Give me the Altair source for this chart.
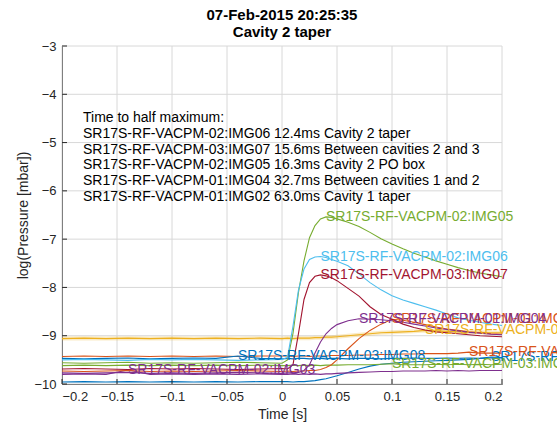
import altair as alt
import pandas as pd

# time grid [s]
T = [-0.2, -0.18, -0.16, -0.14, -0.12, -0.1, -0.08, -0.06, -0.04, -0.02, 0.0,
     0.005, 0.01, 0.015, 0.02, 0.025, 0.03, 0.035, 0.04, 0.045,
     0.05, 0.06, 0.07, 0.08, 0.09, 0.1, 0.11, 0.12, 0.13, 0.14, 0.15, 0.16, 0.17, 0.18, 0.19, 0.2]

names = [
    "SR17S-RF-VACPM-01:IMG01",
    "SR17S-RF-VACPM-04:IMG09",
    "SR17S-RF-VACPM-03:IMG08",
    "SR17S-RF-VACPM-02:IMG03",
    "SR17S-RF-VACPM-03:IMG12",
    "SR17S-RF-VACPM-04:IMG10",
    "SR17S-RF-VACPM-01:IMG02",
    "SR17S-RF-VACPM-01:IMG04",
    "SR17S-RF-VACPM-02:IMG05",
    "SR17S-RF-VACPM-02:IMG06",
    "SR17S-RF-VACPM-03:IMG07",
]
colors = ["#0072BD", "#D95319", "#0072BD", "#7E2F8E", "#77AC30", "#EDB120",
          "#D95319", "#7E2F8E", "#77AC30", "#4DBEEE", "#A2142F"]

img01 = [-9.96, -9.95, -9.96, -9.95, -9.96, -9.95, -9.96, -9.95, -9.96, -9.95, -9.95,
         -9.95, -9.96, -9.95, -9.95, -9.94, -9.93, -9.91, -9.89, -9.86,
         -9.83, -9.76, -9.69, -9.63, -9.59, -9.57, -9.55, -9.54, -9.53, -9.52, -9.51, -9.50, -9.49, -9.47, -9.44, -9.45]
img09 = [-9.43, -9.42, -9.43, -9.42, -9.43, -9.42, -9.43, -9.42, -9.43, -9.42, -9.42,
         -9.42, -9.43, -9.42, -9.42, -9.43, -9.42, -9.42, -9.42, -9.41,
         -9.41, -9.41, -9.40, -9.40, -9.39, -9.39, -9.38, -9.38, -9.37, -9.37, -9.37, -9.36, -9.34, -9.36, -9.36, -9.36]
img08 = [-9.47, -9.48, -9.47, -9.46, -9.48, -9.47, -9.46, -9.47, -9.42, -9.47, -9.48,
         -9.47, -9.48, -9.47, -9.47, -9.48, -9.47, -9.47, -9.48, -9.47,
         -9.47, -9.48, -9.47, -9.47, -9.48, -9.47, -9.47, -9.46, -9.47, -9.47, -9.46, -9.47, -9.46, -9.47, -9.46, -9.46]
img03 = [-9.80, -9.79, -9.80, -9.71, -9.80, -9.79, -9.80, -9.79, -9.80, -9.79, -9.80,
         -9.80, -9.79, -9.80, -9.79, -9.80, -9.79, -9.80, -9.79, -9.79,
         -9.78, -9.77, -9.76, -9.75, -9.74, -9.74, -9.73, -9.73, -9.73, -9.72, -9.73, -9.72, -9.73, -9.72, -9.72, -9.72]
img12 = [-9.62, -9.61, -9.62, -9.61, -9.62, -9.61, -9.62, -9.61, -9.62, -9.61, -9.62,
         -9.62, -9.61, -9.62, -9.61, -9.62, -9.61, -9.62, -9.61, -9.61,
         -9.61, -9.60, -9.60, -9.60, -9.59, -9.58, -9.60, -9.60, -9.60, -9.59, -9.60, -9.59, -9.60, -9.59, -9.60, -9.59]
img10 = [-9.06, -9.05, -9.06, -9.05, -9.06, -9.05, -9.06, -9.05, -9.06, -9.05, -9.06,
         -9.05, -9.06, -9.05, -9.05, -9.05, -9.04, -9.04, -9.03, -9.03,
         -9.02, -9.00, -8.98, -8.96, -8.94, -8.93, -8.92, -8.91, -8.89, -8.90, -8.91, -8.92, -8.93, -8.93, -8.94, -8.94]
img02 = [-9.73, -9.74, -9.73, -9.72, -9.74, -9.73, -9.74, -9.73, -9.72, -9.73, -9.74,
         -9.73, -9.74, -9.73, -9.73, -9.72, -9.72, -9.70, -9.66, -9.60,
         -9.50, -9.27, -9.06, -8.89, -8.76, -8.66, -8.68, -8.72, -8.77, -8.82, -8.86, -8.89, -8.92, -8.94, -8.96, -8.97]
img04 = [-9.77, -9.78, -9.77, -9.76, -9.78, -9.77, -9.78, -9.77, -9.76, -9.77, -9.78,
         -9.77, -9.77, -9.76, -9.72, -9.60, -9.36, -9.13, -8.96, -8.85,
         -8.77, -8.69, -8.65, -8.66, -8.67, -8.69, -8.72, -8.76, -8.80, -8.84, -8.87, -8.90, -8.93, -8.95, -8.97, -8.98]
img05 = [-9.56, -9.57, -9.56, -9.55, -9.57, -9.56, -9.57, -9.56, -9.55, -9.56, -9.57,
         -9.50, -8.95, -8.10, -7.45, -6.97, -6.72, -6.58, -6.54, -6.55,
         -6.58, -6.65, -6.74, -6.86, -6.99, -7.10, -7.20, -7.29, -7.37, -7.45, -7.52, -7.59, -7.65, -7.70, -7.74, -7.78]
img06 = [-9.50, -9.49, -9.50, -9.51, -9.49, -9.50, -9.49, -9.50, -9.51, -9.50, -9.49,
         -9.45, -8.80, -8.05, -7.62, -7.42, -7.37, -7.36, -7.38, -7.42,
         -7.46, -7.55, -7.72, -7.90, -8.05, -8.17, -8.26, -8.33, -8.40, -8.47, -8.55, -8.63, -8.68, -8.72, -8.76, -8.79]
img07 = [-9.69, -9.68, -9.69, -9.70, -9.68, -9.69, -9.68, -9.69, -9.70, -9.69, -9.68,
         -9.69, -9.60, -8.95, -8.25, -7.90, -7.77, -7.74, -7.76, -7.80,
         -7.86, -8.02, -8.18, -8.40, -8.56, -8.66, -8.76, -8.83, -8.88, -8.92, -8.94, -8.96, -8.98, -9.00, -9.01, -9.02]

values = [img01, img09, img08, img03, img12, img10, img02, img04, img05, img06, img07]

summary_lines = [
    "Time to half maximum:",
    "SR17S-RF-VACPM-02:IMG06 12.4ms Cavity 2 taper",
    "SR17S-RF-VACPM-03:IMG07 15.6ms Between cavities 2 and 3",
    "SR17S-RF-VACPM-02:IMG05 16.3ms Cavity 2 PO box",
    "SR17S-RF-VACPM-01:IMG04 32.7ms Between cavities 1 and 2",
    "SR17S-RF-VACPM-01:IMG02 63.0ms Cavity 1 taper",
]
title_lines = ["07-Feb-2015 20:25:35", "Cavity 2 taper"]
x_ticks = [-0.2, -0.15, -0.1, -0.05, 0.0, 0.05, 0.1, 0.15, 0.2]
y_ticks = [-10, -9, -8, -7, -6, -5, -4, -3]

rows = []
for name, vals in zip(names, values):
    for t, v in zip(T, vals):
        rows.append({"series": name, "t": t, "v": v})
df = pd.DataFrame(rows)
peaks = df.loc[df.groupby("series")["v"].idxmax()].reset_index(drop=True)

W, H = 440, 338
FONT = "Liberation Sans"
AX = "#262626"
GRID = "#d8d8d8"

xs = alt.Scale(domain=[-0.2, 0.2], nice=False, zero=False)
ys = alt.Scale(domain=[-10, -3], nice=False, zero=False)
cs = alt.Scale(domain=names, range=colors)
x_axis = alt.Axis(values=x_ticks, format="~g", title="Time [s]", grid=False,
                  domainColor=AX, tickSize=0, labelFont=FONT, labelFontSize=13, labelColor=AX,
                  labelPadding=6, titleFont=FONT, titleFontSize=14, titleColor=AX,
                  titleFontWeight="normal", titlePadding=4)
y_axis = alt.Axis(values=y_ticks, format="d", title="log(Pressure [mbar])", grid=False,
                  domainColor=AX, tickSize=0, labelFont=FONT, labelFontSize=13, labelColor=AX,
                  labelPadding=6, titleFont=FONT, titleFontSize=14, titleColor=AX,
                  titleFontWeight="normal", titlePadding=3)

X = alt.X("t:Q", scale=xs, axis=x_axis)
Y = alt.Y("v:Q", scale=ys, axis=y_axis)

# grid drawn as rules from the tick lists; every layer carries the same axis definitions
grid_x = alt.Chart(pd.DataFrame({"gx": x_ticks})).mark_rule(color=GRID, strokeWidth=1).encode(
    x=alt.X("gx:Q", scale=xs, axis=x_axis))
grid_y = alt.Chart(pd.DataFrame({"gy": y_ticks})).mark_rule(color=GRID, strokeWidth=1).encode(
    y=alt.Y("gy:Q", scale=ys, axis=y_axis))

band = alt.Chart(df[df["series"] == "SR17S-RF-VACPM-04:IMG10"]).mark_line(
    strokeWidth=4, opacity=0.25, color="#EDB120", clip=True
).encode(x=X, y=Y)

lines = alt.Chart(df).mark_line(strokeWidth=1.1, clip=True).encode(
    x=X, y=Y,
    color=alt.Color("series:N", scale=cs, legend=None),
)

labels = alt.Chart(peaks).mark_text(align="left", baseline="middle", fontSize=14, font=FONT).encode(
    x=X, y=Y,
    text="series:N",
    color=alt.Color("series:N", scale=cs, legend=None),
)

block = alt.Chart(pd.DataFrame({"a": [0]})).mark_text(
    align="left", baseline="top", fontSize=14, font=FONT, lineHeight=15.8, color="#000000"
).encode(x=alt.value(21), y=alt.value(65), text=alt.value(summary_lines))

xt = alt.Chart(pd.DataFrame({"t": x_ticks})).mark_rule(color=AX, strokeWidth=1).encode(
    x=X, y=alt.value(H), y2=alt.value(H - 5))
yt = alt.Chart(pd.DataFrame({"v": y_ticks})).mark_rule(color=AX, strokeWidth=1).encode(
    y=Y, x=alt.value(0), x2=alt.value(5))

chart = alt.layer(grid_x, grid_y, band, lines, labels, block, xt, yt).properties(
    width=W, height=H,
    padding={"left": 62, "top": 46, "right": 55, "bottom": 42},
    autosize=alt.AutoSizeParams(type="none"),
    title=alt.TitleParams(title_lines, fontSize=15, fontWeight="bold", font=FONT, lineHeight=17,
                          offset=6, dy=6, anchor="middle", color="#000000"),
).configure_view(stroke=None)

chart.save("out.html", embed_options={"renderer": "svg", "actions": False})
